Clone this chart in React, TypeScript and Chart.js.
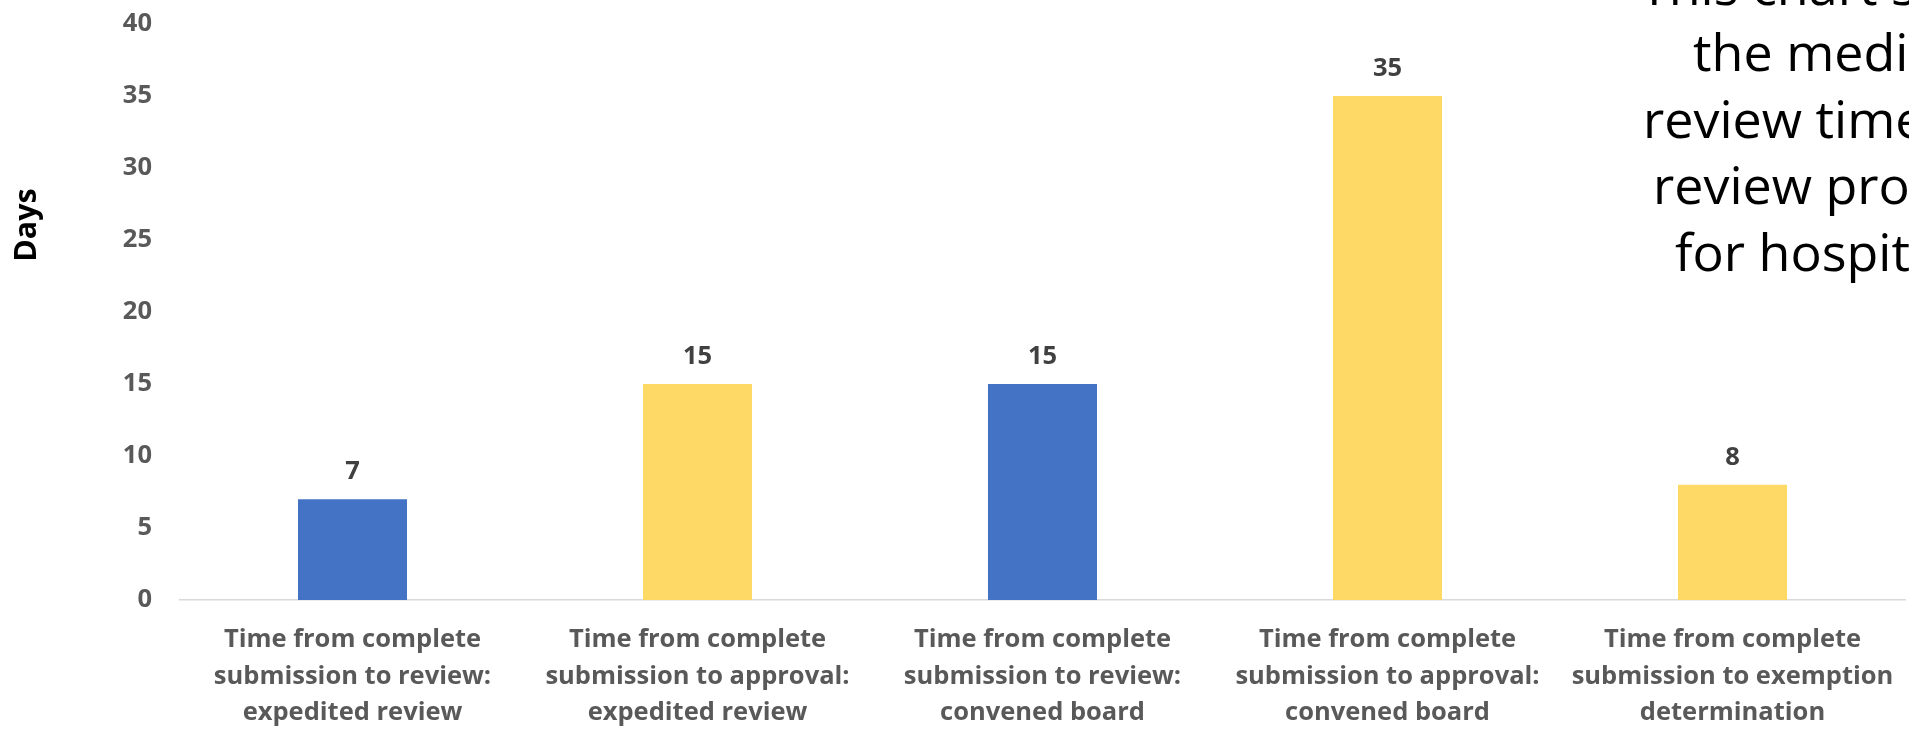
import React, { useEffect, useRef } from "react";
import { Chart, registerables } from "chart.js";

Chart.register(...registerables);

const categories: string[][] = [
  ["Time from complete", "submission to review:", "expedited review"],
  ["Time from complete", "submission to approval:", "expedited review"],
  ["Time from complete", "submission to review:", "convened board"],
  ["Time from complete", "submission to approval:", "convened board"],
  ["Time from complete", "submission to exemption", "determination"],
];
const values: number[] = [7, 15, 15, 35, 8];
const barColors: string[] = ["#4472C4", "#FFD966", "#4472C4", "#FFD966", "#FFD966"];
const yTitle = "Days";
const noteLines: string[] = [
  "This chart shows",
  "the median",
  "review times by",
  "review process",
  "for hospitals",
];
const yMin = 0;
const yMax = 40;
const yStep = 5;

const FONT = "'Open Sans', Lato, sans-serif";

export default function App() {
  const ref = useRef<HTMLCanvasElement | null>(null);

  useEffect(() => {
    document.body.style.margin = "0";
    const canvas = ref.current;
    if (!canvas) return;

    const dataLabels = {
      id: "dataLabels",
      afterDatasetsDraw(chart: any) {
        const ctx = chart.ctx;
        const meta = chart.getDatasetMeta(0);
        ctx.save();
        ctx.fillStyle = "#404040";
        ctx.font = `bold 25.5px ${FONT}`;
        ctx.textAlign = "center";
        ctx.textBaseline = "middle";
        meta.data.forEach((bar: any, i: number) => {
          ctx.fillText(String(values[i]), bar.x, bar.y - 27);
        });
        ctx.restore();
      },
    };

    const extras = {
      id: "extras",
      afterDraw(chart: any) {
        const ctx = chart.ctx;
        ctx.save();
        // y-axis title
        ctx.translate(27, 225);
        ctx.rotate(-Math.PI / 2);
        ctx.fillStyle = "#000000";
        ctx.font = `bold 30.5px ${FONT}`;
        ctx.textAlign = "center";
        ctx.textBaseline = "middle";
        ctx.fillText(yTitle, 0, 0);
        ctx.restore();

        // note text box at right
        ctx.save();
        ctx.fillStyle = "#000000";
        ctx.font = `52px ${FONT}`;
        ctx.textAlign = "left";
        ctx.textBaseline = "alphabetic";
        const xs = [1640, 1693, 1643, 1653, 1675];
        const baseTop = 4.5;
        noteLines.forEach((line, i) => {
          ctx.fillText(line, xs[i], baseTop + i * 66.5);
        });
        ctx.restore();
      },
    };

    const chart = new Chart(canvas, {
      type: "bar",
      data: {
        labels: categories,
        datasets: [
          {
            data: values,
            backgroundColor: barColors,
            borderWidth: 0,
            barPercentage: 0.316,
            categoryPercentage: 1,
          },
        ],
      },
      options: {
        animation: false,
        responsive: false,
        devicePixelRatio: 1,
        layout: { padding: { left: 0, right: 4, top: 24, bottom: 0 } },
        plugins: {
          legend: { display: false },
          tooltip: { enabled: false },
        },
        scales: {
          x: {
            grid: { display: false, drawTicks: false },
            border: { display: true, color: "#D9D9D9", width: 1.5 },
            ticks: {
              color: "#595959",
              font: { family: FONT, size: 25.5, weight: "bold", lineHeight: 1.43 },
              padding: 22,
              maxRotation: 0,
              autoSkip: false,
            },
            afterFit(scale: any) {
              scale.height = 129;
              scale.paddingLeft = 0;
              scale.paddingRight = 0;
            },
          },
          y: {
            min: yMin,
            max: yMax,
            grid: { display: false, drawTicks: false },
            border: { display: false },
            ticks: {
              stepSize: yStep,
              color: "#595959",
              font: { family: FONT, size: 25.5, weight: "bold" },
              padding: 28,
            },
            afterFit(scale: any) {
              scale.width = 180;
              scale.paddingTop = 0;
              scale.paddingBottom = 0;
            },
          },
        },
      },
      plugins: [dataLabels, extras],
    });

    return () => chart.destroy();
  }, []);

  return (
    <div style={{ position: "fixed", left: 0, top: 0, width: 1909, height: 729, background: "#fff" }}>
      <canvas ref={ref} width={1909} height={729} style={{ width: 1909, height: 729, display: "block" }} />
    </div>
  );
}
